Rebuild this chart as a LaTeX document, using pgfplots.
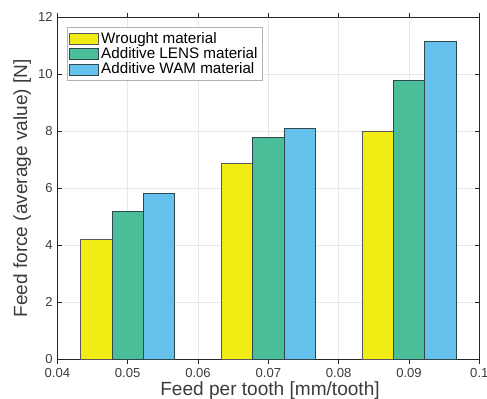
\documentclass[border=0pt]{standalone}
\usepackage{pgfplots}
\pgfplotsset{compat=1.18}
\usepackage{fontspec}
\setmainfont{Liberation Sans}
\definecolor{cyel}{RGB}{240,236,20}
\definecolor{cgrn}{RGB}{74,190,152}
\definecolor{cblu}{RGB}{100,193,236}
\definecolor{edg}{RGB}{50,70,80}
\definecolor{txt}{RGB}{60,60,60}
\begin{document}
\begin{tikzpicture}
\begin{axis}[
  scale only axis,
  width=316.5pt, height=256.5pt,
  xmin=0.04, xmax=0.1, ymin=0, ymax=12,
  xtick={0.04,0.05,0.06,0.07,0.08,0.09,0.1},
  xticklabels={0.04,0.05,0.06,0.07,0.08,0.09,0.1},
  ytick={0,2,4,6,8,10,12},
  /pgf/number format/assume math mode=true,
  tick align=inside,
  tick pos=both,
  major tick length=3.5pt,
  grid=major,
  grid style={gray!18, line width=0.4pt},
  axis line style={black!85, line width=0.5pt},
  tick style={black!85, line width=0.5pt},
  ticklabel style={font=\fontsize{9.8pt}{11pt}\selectfont, text=txt},
  xticklabel style={inner sep=1pt, yshift=-2pt},
  xlabel={Feed per tooth [mm/tooth]},
  ylabel={Feed force (average value) [N]},
  label style={font=\fontsize{14.3pt}{16pt}\selectfont, text=txt},
  xlabel style={at={(axis description cs:0.504,-0.106)}, anchor=base, inner sep=0pt},
  ylabel style={at={(axis description cs:-0.083,0.5)}, anchor=center},
  ybar, bar width=0.00445,
  legend cell align=left,
  legend style={at={(0.022,0.971)}, anchor=north west, font=\fontsize{11.4pt}{12pt}\selectfont,
     draw=gray!60, fill=white, inner sep=1.5pt, row sep=-2.2pt},
  area legend,
  legend image code/.code={\draw[#1] (0pt,-4.1pt) rectangle (21.75pt,4.1pt);},
]
\addplot[fill=cyel, draw=gray!70!black, line width=0.5pt, bar shift=-0.00445] coordinates {(0.05,4.21) (0.07,6.86) (0.09,8.01)};
\addplot[fill=cgrn, draw=edg, line width=0.5pt, bar shift=0] coordinates {(0.05,5.19) (0.07,7.79) (0.09,9.77)};
\addplot[fill=cblu, draw=edg, line width=0.5pt, bar shift=0.00445] coordinates {(0.05,5.83) (0.07,8.09) (0.09,11.14)};
\legend{Wrought material, Additive LENS material, Additive WAM material}
\end{axis}
\pgfresetboundingbox
\path (current axis.south west) ++(-43pt,-29.8pt) rectangle ++(365.25pt,299.25pt);
\end{tikzpicture}
\end{document}
